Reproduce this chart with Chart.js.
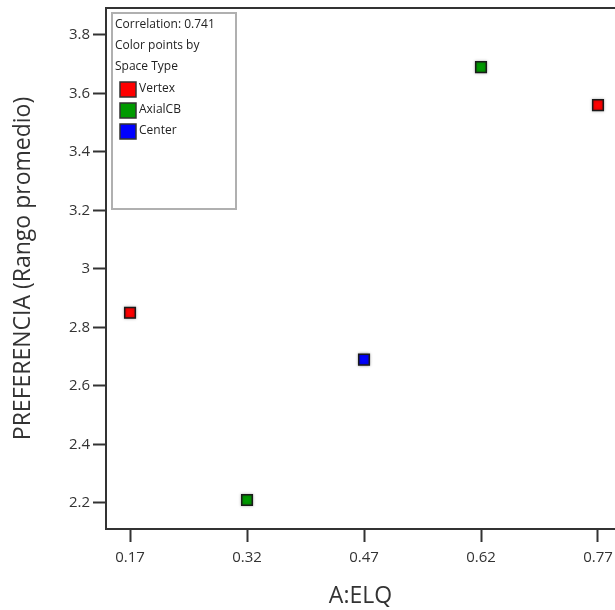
<!DOCTYPE html>
<html>
<head>
<meta charset="utf-8">
<script src="https://cdn.jsdelivr.net/npm/chart.js@4/dist/chart.umd.min.js"></script>
<style>
  html, body { margin: 0; padding: 0; background: #fff; overflow: hidden; }
  #wrap { width: 615px; height: 610px; }
</style>
</head>
<body>
<div id="wrap"><canvas id="chart" width="615" height="610"></canvas></div>
<script>
// data
const elq = [0.17, 0.32, 0.47, 0.62, 0.77];
const preferencia = [2.85, 2.21, 2.69, 3.69, 3.56];
const spaceType = ["Vertex", "AxialCB", "Center", "AxialCB", "Vertex"];

const typeNames = ["Vertex", "AxialCB", "Center"];
const typeColors = ["#ff0000", "#009a00", "#0000ff"];

const xTicks = [0.17, 0.32, 0.47, 0.62, 0.77];
const yTicks = [2.2, 2.4, 2.6, 2.8, 3, 3.2, 3.4, 3.6, 3.8];

const correlation = 0.741;
const legendLines = ["Correlation: " + correlation, "Color points by", "Space Type"];

const FONT = "'Open Sans', 'Noto Sans', sans-serif";
const AXIS = "#333333";

// one dataset per space type
var datasets = typeNames.map(function (name, i) {
    var pts = [];
    for (var k = 0; k < elq.length; k++) {
        if (spaceType[k] === name) pts.push({ x: elq[k], y: preferencia[k] });
    }
    return {
        label: name,
        data: pts,
        backgroundColor: typeColors[i],
        borderColor: "#1a1a1a",
        borderWidth: 1.5,
        pointStyle: "rect",
        pointRadius: 7.5,
        pointHoverRadius: 7.5,
        clip: false
    };
});

// soft halo around the markers
const markerShadow = {
    id: "markerShadow",
    beforeDatasetsDraw(chart) {
        const ctx = chart.ctx;
        ctx.save();
        ctx.shadowColor = "rgba(0,0,0,0.35)";
        ctx.shadowBlur = 3;
    },
    afterDatasetsDraw(chart) {
        chart.ctx.restore();
    }
};

// top frame line + boxed legend inside the plot
const frameAndLegend = {
    id: "frameAndLegend",
    afterDraw(chart) {
        const ctx = chart.ctx;
        const a = chart.chartArea;
        ctx.save();
        ctx.strokeStyle = AXIS;
        ctx.lineWidth = 2;
        ctx.beginPath();
        ctx.moveTo(a.left - 1, a.top);
        ctx.lineTo(a.right + 2, a.top);
        ctx.stroke();

        // legend box
        const bx = a.left + 6, by = a.top + 5, bw = 124, bh = 196;
        ctx.fillStyle = "#fff";
        ctx.fillRect(bx, by, bw, bh);
        ctx.strokeStyle = "#b0b0b0";
        ctx.lineWidth = 2;
        ctx.strokeRect(bx, by, bw, bh);

        ctx.fillStyle = "#222";
        ctx.font = "12px " + FONT;
        ctx.textBaseline = "middle";
        ctx.textAlign = "left";
        legendLines.forEach(function (t, i) {
            ctx.fillText(t, bx + 3, by + 12 + i * 21);
        });
        typeNames.forEach(function (name, i) {
            const yy = by + 76 + i * 21;
            ctx.fillStyle = typeColors[i];
            ctx.fillRect(bx + 8, yy - 7, 16, 15);
            ctx.strokeStyle = "#333";
            ctx.lineWidth = 1.5;
            ctx.strokeRect(bx + 8, yy - 7, 16, 15);
            ctx.fillStyle = "#222";
            ctx.fillText(name, bx + 27, yy);
        });
        ctx.restore();
    }
};

var chart = new Chart(document.getElementById("chart").getContext("2d"), {
    type: "scatter",
    data: { datasets: datasets },
    options: {
        responsive: false,
        animation: false,
        layout: {
            autoPadding: false,
            padding: { top: 8, right: 0, left: 0, bottom: 0 }
        },
        plugins: {
            legend: { display: false },
            tooltip: { enabled: false }
        },
        scales: {
            x: {
                type: "linear",
                min: 0.1392,
                max: 0.7918,
                afterBuildTicks: function (scale) {
                    scale.ticks = xTicks.map(function (v) { return { value: v }; });
                },
                afterFit: function (scale) {
                    scale.height = 81;
                    scale.paddingLeft = 0;
                    scale.paddingRight = 0;
                },
                grid: {
                    display: true,
                    drawOnChartArea: false,
                    drawTicks: true,
                    tickLength: 13,
                    tickColor: AXIS,
                    tickWidth: 2
                },
                border: { display: true, color: AXIS, width: 2 },
                ticks: {
                    padding: 7,
                    color: "#333",
                    font: { family: FONT, size: 15 },
                    callback: function (v) { return String(v); }
                },
                title: {
                    display: true,
                    text: "A:ELQ",
                    color: "#333",
                    font: { family: FONT, size: 23 },
                    padding: { top: 0, bottom: 0 }
                }
            },
            y: {
                type: "linear",
                min: 2.111,
                max: 3.892,
                afterBuildTicks: function (scale) {
                    scale.ticks = yTicks.map(function (v) { return { value: v }; });
                },
                afterFit: function (scale) {
                    scale.width = 106;
                    scale.paddingTop = 0;
                    scale.paddingBottom = 0;
                },
                grid: {
                    display: true,
                    drawOnChartArea: false,
                    drawTicks: true,
                    tickLength: 13,
                    tickColor: AXIS,
                    tickWidth: 2
                },
                border: { display: true, color: AXIS, width: 2 },
                ticks: {
                    padding: 3,
                    color: "#333",
                    font: { family: FONT, size: 15 },
                    callback: function (v) { return String(v); }
                },
                title: {
                    display: true,
                    text: "PREFERENCIA (Rango promedio)",
                    color: "#333",
                    font: { family: FONT, size: 23 },
                    padding: { top: 10, bottom: 0 }
                }
            }
        }
    },
    plugins: [markerShadow, frameAndLegend]
});
</script>
</body>
</html>
